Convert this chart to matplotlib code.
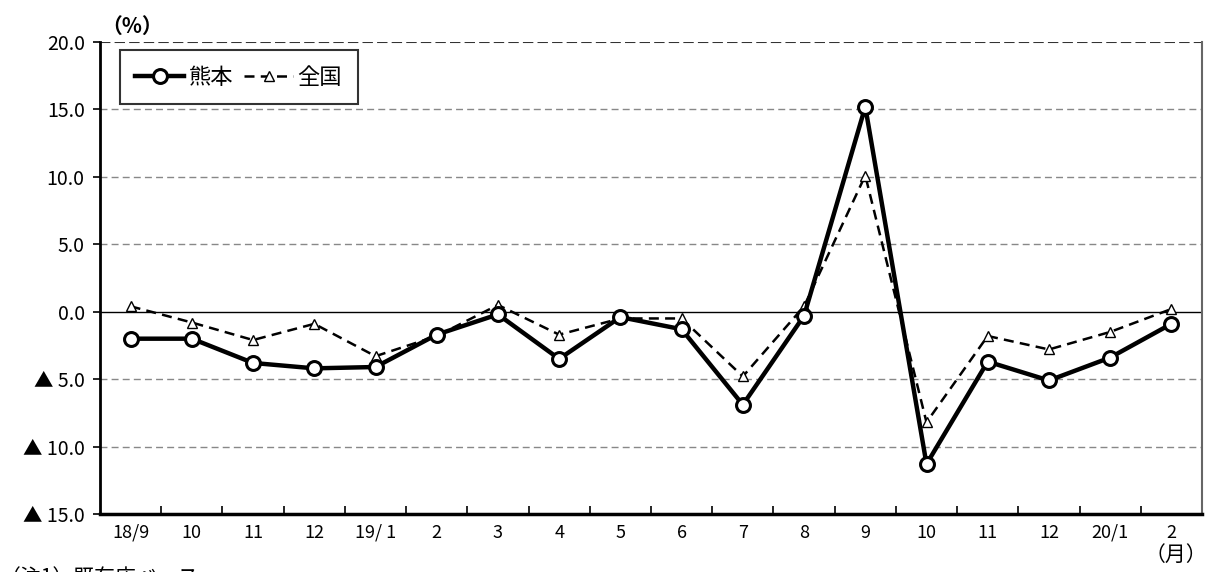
import numpy as np
import matplotlib.pyplot as plt
from matplotlib.ticker import FixedLocator

plt.rcParams['font.family'] = ['Noto Sans CJK JP', 'DejaVu Sans']

months = ['18/9', '10', '11', '12', '19/ 1', '2', '3', '4', '5', '6',
          '7', '8', '9', '10', '11', '12', '20/1', '2']
kumamoto = [-2.0, -2.0, -3.8, -4.2, -4.1, -1.7, -0.2, -3.5, -0.4, -1.3,
            -6.9, -0.3, 15.2, -11.3, -3.7, -5.1, -3.4, -0.9]
zenkoku = [0.4, -0.8, -2.1, -0.9, -3.3, -1.8, 0.5, -1.7, -0.5, -0.5,
           -4.8, 0.4, 10.1, -8.2, -1.8, -2.8, -1.5, 0.2]
y_ticks = [20, 15, 10, 5, 0, -5, -10, -15]
y_labels = ['20.0', '15.0', '10.0', '5.0', '0.0', '▲ 5.0', '▲ 10.0', '▲ 15.0']

fig = plt.figure(figsize=(12.09, 5.72), dpi=100)
ax = fig.add_axes([100 / 1209, 58 / 572, 1102 / 1209, 472 / 572])

x = np.arange(len(months))
ax.plot(x, kumamoto, color='black', lw=3.2, marker='o', ms=10,
        mfc='white', mec='black', mew=2.2, label='熊本', zorder=4)
ax.plot(x, zenkoku, color='black', lw=1.8, ls=(0, (4, 2.5)), marker='^',
        ms=7, mfc='white', mec='black', mew=1.0, label='全国', zorder=3)

ax.set_xlim(-0.5, len(months) - 0.5)
ax.set_ylim(-15, 20)

# gridlines and zero line
for v in [15, 10, 5, -5, -10]:
    ax.axhline(v, color='#888888', lw=1.0, ls=(0, (5, 3)), zorder=1)
ax.axhline(20, color='#333333', lw=1.5, ls=(0, (5, 2)), zorder=1)
ax.axhline(0, color='black', lw=1.0, zorder=2)

ax.set_yticks(y_ticks)
ax.set_yticklabels(y_labels, fontsize=14)
ax.tick_params(axis='y', direction='out', length=5, width=1.2, pad=6)

ax.set_xticks(x)
ax.set_xticklabels(months, fontsize=13)
ax.tick_params(axis='x', which='major', length=0, pad=7)
ax.xaxis.set_minor_locator(FixedLocator(np.arange(0.5, len(months) - 0.5)))
ax.tick_params(axis='x', which='minor', direction='in', length=6, width=1.2)

ax.spines['top'].set_visible(False)
ax.spines['right'].set_color('#666666')
ax.spines['right'].set_linewidth(1.5)
ax.spines['left'].set_linewidth(2.0)
ax.spines['bottom'].set_linewidth(2.5)

leg = ax.legend(loc='upper left', bbox_to_anchor=(0.018, 0.983), ncol=2,
                fontsize=16, frameon=True, fancybox=False, handlelength=2.2,
                handletextpad=0.2, columnspacing=0.5, borderpad=0.7,
                borderaxespad=0)
leg.get_frame().set_edgecolor('black')
leg.get_frame().set_linewidth(1.5)

fig.text(132 / 1209, 1 - 26 / 572, '（%）', fontsize=15, fontweight='bold',
         ha='center', va='center')
fig.text(1176 / 1209, 1 - 555 / 572, '（月）', fontsize=15, ha='center', va='center')
fig.text(0 / 1209, 1 - 578 / 572, '（注1）既存店ベース', fontsize=15, ha='left', va='center')

fig.savefig('out.png', dpi=100)
